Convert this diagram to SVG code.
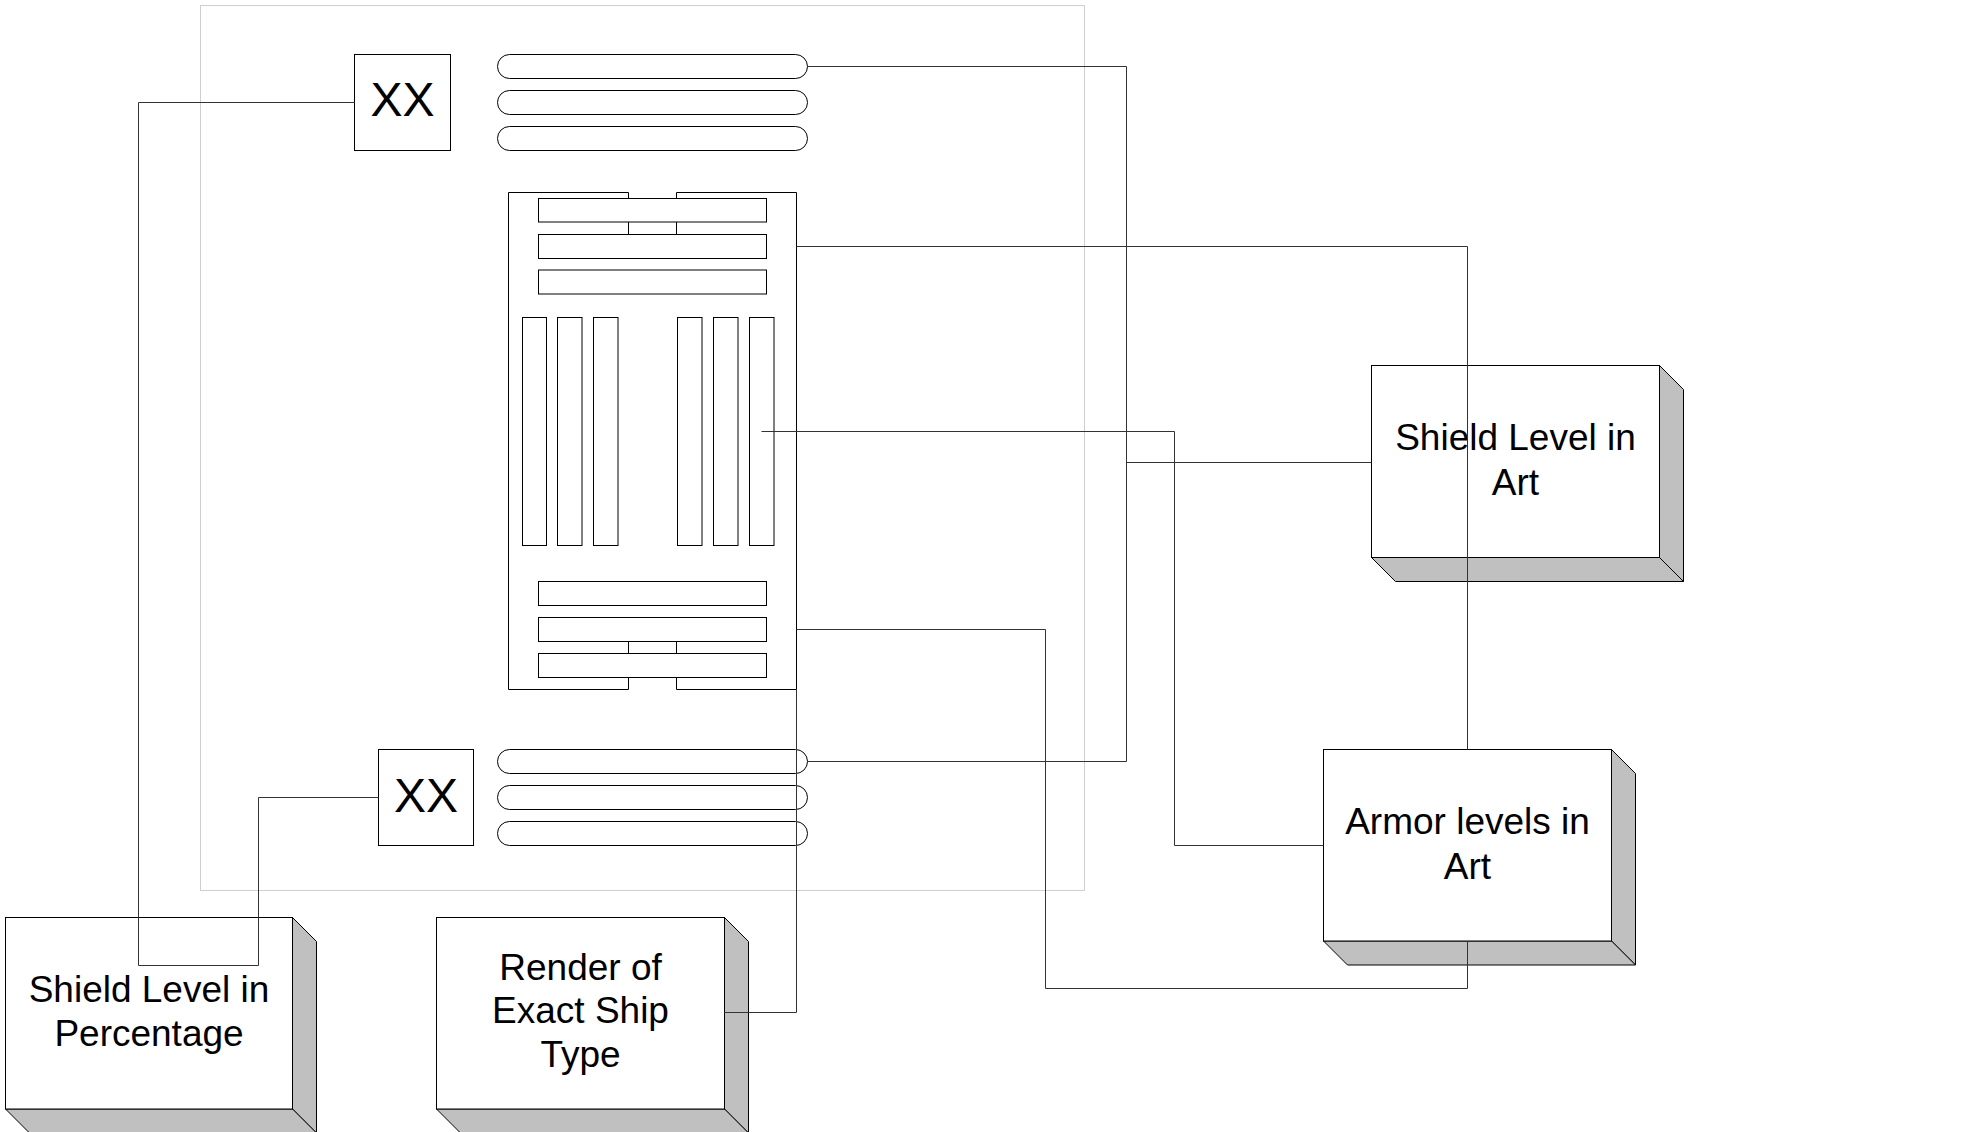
<svg xmlns="http://www.w3.org/2000/svg" width="1979" height="1132" viewBox="0 0 1979 1132">
<defs>
<style>
.s{fill:#fff;stroke:#000;stroke-width:1}
.sh{fill:#c0c0c0;stroke:#000;stroke-width:1;stroke-linejoin:miter}
.c{fill:none;stroke:#333;stroke-width:1}
.t{font-family:"Liberation Sans",Arial,sans-serif;font-size:37px;fill:#000;text-anchor:middle}
.x{font-family:"Liberation Sans",Arial,sans-serif;font-size:48px;fill:#000;text-anchor:middle}
</style>
</defs>
<rect width="1979" height="1132" fill="#fff"/>
<rect id="frame" x="200.5" y="5.5" width="884" height="885" fill="none" stroke="#cfcfcf" stroke-width="1"/>

<g id="pills-top">
<rect class="s" x="497.5" y="54.5" width="310" height="24" rx="12"/>
<rect class="s" x="497.5" y="90.5" width="310" height="24" rx="12"/>
<rect class="s" x="497.5" y="126.5" width="310" height="24" rx="12"/>
</g>
<g id="pills-bottom">
<rect class="s" x="497.5" y="749.5" width="310" height="24" rx="12"/>
<rect class="s" x="497.5" y="785.5" width="310" height="24" rx="12"/>
<rect class="s" x="497.5" y="821.5" width="310" height="24" rx="12"/>
</g>
<g id="xx-top">
<rect class="s" x="354.5" y="54.5" width="96" height="96"/>
<text class="x" x="402.5" y="116">XX</text>
</g>
<g id="xx-bottom">
<rect class="s" x="378.5" y="749.5" width="95" height="96"/>
<text class="x" x="426" y="811.5">XX</text>
</g>
<g id="board">
<path class="s" d="M508.5,192.5 H628.5 V234.5 H676.5 V192.5 H796.5 V689.5 H676.5 V641.5 H628.5 V689.5 H508.5 Z"/>
<rect class="s" x="538.5" y="198.5" width="228" height="23.5"/>
<rect class="s" x="538.5" y="234.5" width="228" height="24"/>
<rect class="s" x="538.5" y="270" width="228" height="24"/>
<rect class="s" x="522.5" y="317.5" width="24" height="228"/>
<rect class="s" x="557.5" y="317.5" width="24.5" height="228"/>
<rect class="s" x="593.5" y="317.5" width="24.5" height="228"/>
<rect class="s" x="677.5" y="317.5" width="24.5" height="228"/>
<rect class="s" x="713.5" y="317.5" width="24.5" height="228"/>
<rect class="s" x="749.5" y="317.5" width="24.5" height="228"/>
<rect class="s" x="538.5" y="581.5" width="228" height="24"/>
<rect class="s" x="538.5" y="617.5" width="228" height="24"/>
<rect class="s" x="538.5" y="653.5" width="228" height="24"/>
</g>

<g id="node-percentage">
<polygon class="sh" points="292.5,917.5 316.5,941.5 316.5,1133 292.5,1109"/>
<polygon class="sh" points="5.5,1109 29.5,1133 316.5,1133 292.5,1109"/>
<rect class="s" x="5.5" y="917.5" width="287" height="191.5"/>
<text class="t" x="149" y="1001.7">Shield Level in</text>
<text class="t" x="149" y="1045.7">Percentage</text>
</g>
<g id="node-render">
<polygon class="sh" points="724.5,917.5 748.5,941.5 748.5,1133 724.5,1109"/>
<polygon class="sh" points="436.5,1109 460.5,1133 748.5,1133 724.5,1109"/>
<rect class="s" x="436.5" y="917.5" width="288" height="191.5"/>
<text class="t" x="580.5" y="979.5">Render of</text>
<text class="t" x="580.5" y="1023.3">Exact Ship</text>
<text class="t" x="580.5" y="1067.1">Type</text>
</g>
<g id="node-shield-art">
<polygon class="sh" points="1659.5,365.5 1683.5,389.5 1683.5,581.5 1659.5,557.5"/>
<polygon class="sh" points="1371.5,557.5 1395.5,581.5 1683.5,581.5 1659.5,557.5"/>
<rect class="s" x="1371.5" y="365.5" width="288" height="192"/>
<text class="t" x="1515.5" y="450">Shield Level in</text>
<text class="t" x="1515.5" y="495">Art</text>
</g>
<g id="node-armor-art">
<polygon class="sh" points="1611.5,749.5 1635.5,773.5 1635.5,965 1611.5,941"/>
<polygon class="sh" points="1323.5,941 1347.5,965 1635.5,965 1611.5,941"/>
<rect class="s" x="1323.5" y="749.5" width="288" height="191.5"/>
<text class="t" x="1467.5" y="834">Armor levels in</text>
<text class="t" x="1467.5" y="879">Art</text>
</g>

<g id="connectors">
<path class="c" d="M1371.5,462.5 H1126.5"/>
<path class="c" d="M807.5,66.5 H1126.5 V761.5 H807.5"/>
<path class="c" d="M796.5,246.5 H1467.5 V749.5"/>
<path class="c" d="M1467.5,941 V988.5 H1045.5 V629.5 H796.5"/>
<path class="c" d="M761.5,431.5 H1174.5 V845.5 H1323.5"/>
<path class="c" d="M354.5,102.5 H138.5 V965.5 H258.5 V797.5 H378.5"/>
<path class="c" d="M724.5,1012.5 H796.5 V689.5"/>
</g>
</svg>
